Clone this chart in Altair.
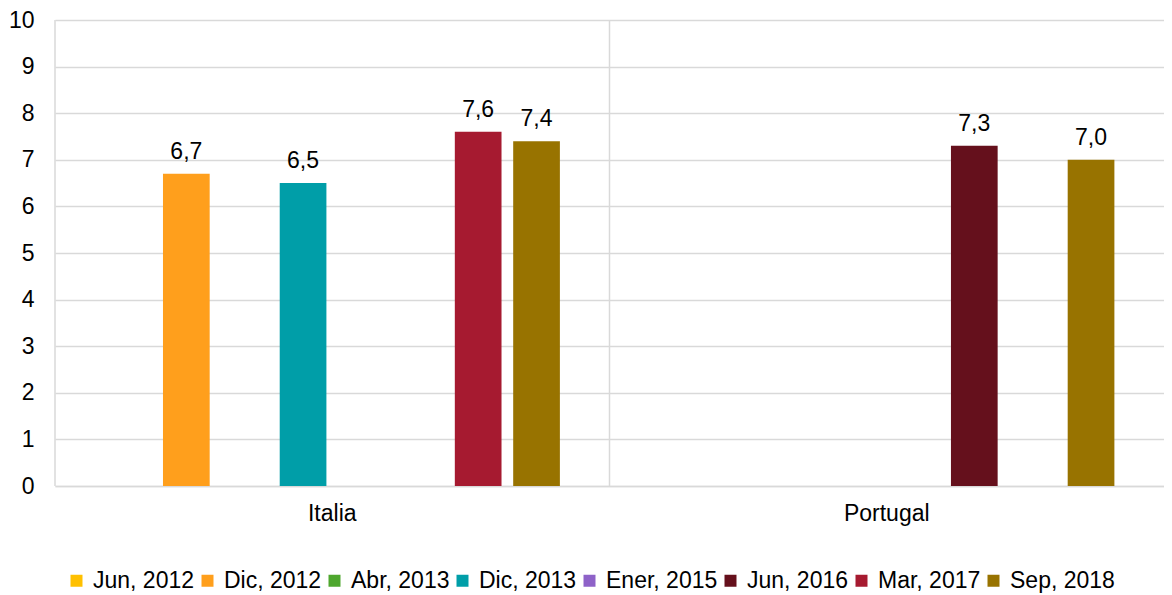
import altair as alt
import pandas as pd

countries = ["Italia", "Portugal"]
series = ["Jun, 2012", "Dic, 2012", "Abr, 2013", "Dic, 2013", "Ener, 2015",
          "Jun, 2016", "Mar, 2017", "Sep, 2018"]
colors = ["#FFC000", "#FF9F1C", "#4EA72E", "#009EA8", "#8E62C8",
          "#65101C", "#A61A30", "#987300"]
italia = [None, 6.7, None, 6.5, None, None, 7.6, 7.4]
portugal = [None, None, None, None, None, 7.3, None, 7.0]

rows = []
for c, vals in zip(countries, [italia, portugal]):
    for s, v in zip(series, vals):
        if v is not None:
            rows.append({"country": c, "series": s, "value": v,
                         "label": f"{v:.1f}".replace(".", ",")})
df = pd.DataFrame(rows)
div_df = pd.DataFrame({"country": countries})

FONT = "Liberation Sans"
FS = 23

xenc = alt.X("country:N", sort=countries,
             scale=alt.Scale(domain=countries, paddingInner=0, paddingOuter=0),
             axis=alt.Axis(title=None, labelAngle=0, ticks=False, domain=True,
                           domainColor="#d9d9d9", domainWidth=1.5, labelPadding=16,
                           labelFontSize=FS, labelColor="#000000", labelFont=FONT))
xoff = alt.XOffset("series:N",
                   scale=alt.Scale(domain=series, paddingInner=0.2, paddingOuter=0.85))
yenc = alt.Y("value:Q",
             scale=alt.Scale(domain=[0, 10], nice=False),
             axis=alt.Axis(title=None, values=list(range(0, 11)), ticks=False,
                           domain=False, grid=True, gridColor="#d9d9d9",
                           gridWidth=1.5, labelPadding=21, labelFontSize=FS,
                           labelColor="#000000", labelFont=FONT))

bars = alt.Chart(df).mark_bar().encode(
    x=xenc, xOffset=xoff, y=yenc,
    color=alt.Color("series:N",
                    scale=alt.Scale(domain=series, range=colors),
                    legend=alt.Legend(title=None, orient="none", legendX=10, legendY=549,
                                      direction="horizontal",
                                      columns=8, symbolType="square", symbolSize=144,
                                      symbolStrokeWidth=0, labelFontSize=FS,
                                      labelFont=FONT, labelColor="#000000",
                                      labelOffset=5, columnPadding=1,
                                      labelLimit=300)),
)

text = alt.Chart(df).mark_text(dy=-15, baseline="alphabetic", fontSize=FS,
                               font=FONT, color="#000000").encode(
    x=alt.X("country:N", sort=countries), xOffset=alt.XOffset("series:N"),
    y="value:Q", text="label:N")

divider = alt.Chart(div_df).mark_rule(color="#d9d9d9", strokeWidth=1.5).encode(
    x=alt.X("country:N", bandPosition=0))

chart = alt.layer(bars, divider, text).properties(
    width=1109, height=466, padding={"left": 0, "top": 1, "right": 0, "bottom": 0}
).configure_view(stroke=None)

chart.save("out.html", embed_options={"renderer": "svg", "actions": False})
